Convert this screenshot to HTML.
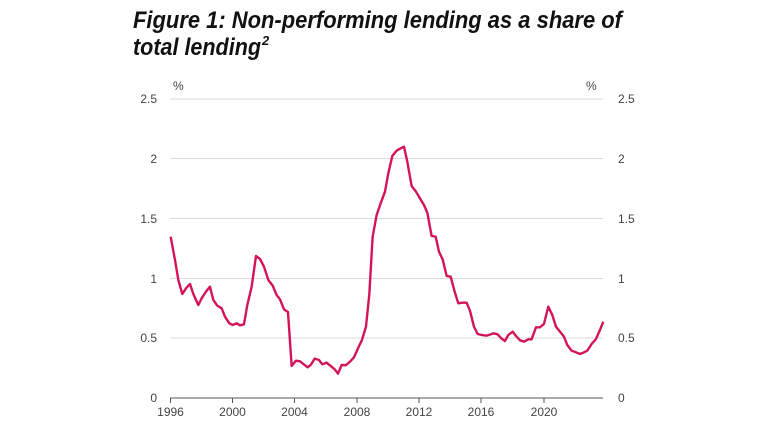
<!DOCTYPE html>
<html><head><style>
body{margin:0;background:#fff;}
svg{display:block;font-family:"Liberation Sans",sans-serif;}
</style></head><body>
<svg width="760" height="428" viewBox="0 0 760 428">
<text x="133" y="28" font-size="24" font-weight="bold" font-style="italic" fill="#111" textLength="489" lengthAdjust="spacingAndGlyphs">Figure 1: Non-performing lending as a share of</text>
<text x="133" y="55" font-size="24" font-weight="bold" font-style="italic" fill="#111" textLength="128" lengthAdjust="spacingAndGlyphs">total lending</text>
<text x="262" y="45" font-size="13" font-weight="bold" font-style="italic" fill="#111">2</text>
<g stroke="#d9d9d9" stroke-width="1">
<line x1="170" y1="99" x2="603" y2="99"/>
<line x1="170" y1="158.5" x2="603" y2="158.5"/>
<line x1="170" y1="218.5" x2="603" y2="218.5"/>
<line x1="170" y1="278.5" x2="603" y2="278.5"/>
<line x1="170" y1="338" x2="603" y2="338"/>
</g>
<line x1="170" y1="398" x2="603" y2="398" stroke="#555" stroke-width="1"/>
<g stroke="#555" stroke-width="1">
<line x1="170.5" y1="398" x2="170.5" y2="403"/>
<line x1="232.5" y1="398" x2="232.5" y2="403"/>
<line x1="294.5" y1="398" x2="294.5" y2="403"/>
<line x1="357" y1="398" x2="357" y2="403"/>
<line x1="419" y1="398" x2="419" y2="403"/>
<line x1="481" y1="398" x2="481" y2="403"/>
<line x1="544" y1="398" x2="544" y2="403"/>
</g>
<g font-size="12" fill="#444" text-anchor="end">
<text x="157" y="103">2.5</text><text x="157" y="163">2</text><text x="157" y="223">1.5</text>
<text x="157" y="283">1</text><text x="157" y="342">0.5</text><text x="157" y="402">0</text>
</g>
<g font-size="12" fill="#444">
<text x="618" y="103">2.5</text><text x="618" y="163">2</text><text x="618" y="223">1.5</text>
<text x="618" y="283">1</text><text x="618" y="342">0.5</text><text x="618" y="402">0</text>
<text x="173" y="90">%</text><text x="586" y="90">%</text>
</g>
<g font-size="12" fill="#444" text-anchor="middle">
<text x="170.5" y="416">1996</text><text x="232.5" y="416">2000</text><text x="294.5" y="416">2004</text>
<text x="357" y="416">2008</text><text x="419" y="416">2012</text><text x="481" y="416">2016</text><text x="544" y="416">2020</text>
</g>
<g transform="translate(140,140) scale(0.3333)">
<polyline fill="none" stroke="#d4145a" stroke-width="2.4" vector-effect="non-scaling-stroke" stroke-linejoin="round" points="92,290 105,360 115,420 127,462 138,445 150,432 160,462 175,495 185,475 198,455 210,440 220,480 232,497 245,505 255,530 268,550 278,555 290,550 300,556 312,553 322,495 335,440 348,348 360,357 372,380 385,420 398,437 410,465 420,478 432,508 444,516 455,678 468,662 480,664 490,672 503,682 513,674 524,656 537,660 547,673 560,668 572,678 584,688 594,701 605,675 617,676 630,665 642,652 655,623 666,600 678,560 688,463 698,290 710,225 722,190 735,155 745,100 757,48 770,32 782,25 792,20 802,65 815,138 828,155 840,175 852,195 862,218 875,288 887,290 897,335 908,358 920,408 932,410 945,458 955,490 967,488 980,488 990,512 1002,560 1013,582 1025,585 1040,587 1050,584 1060,580 1073,583 1085,596 1095,603 1105,585 1118,575 1128,588 1140,601 1152,605 1165,598 1175,598 1188,562 1200,562 1212,552 1225,500 1237,525 1248,560 1260,575 1272,590 1282,615 1295,632 1308,637 1320,642 1330,638 1342,632 1355,612 1368,597 1380,570 1390,545"/>
</g>
</svg>
</body></html>
